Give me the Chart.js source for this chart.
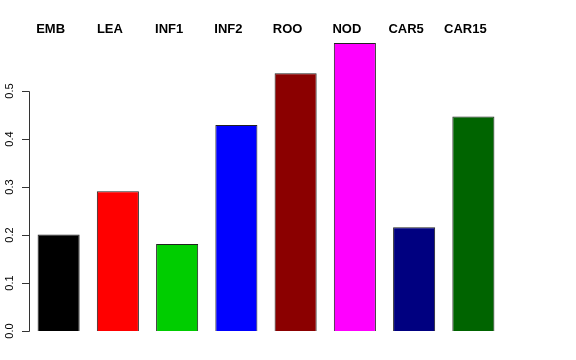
<!DOCTYPE html>
<html>
<head>
    <title>Bar chart</title>
    <script src="https://cdn.jsdelivr.net/npm/chart.js@4"></script>
    <style>
        body { margin: 0; background: #fff; }
        #wrap { width: 576px; height: 360px; }
    </style>
</head>
<body>
    <div id="wrap"><canvas id="barChart"></canvas></div>
    <script>
        var categories = ['EMB', 'LEA', 'INF1', 'INF2', 'ROO', 'NOD', 'CAR5', 'CAR15'];
        var values = [0.201, 0.291, 0.181, 0.429, 0.537, 0.600, 0.216, 0.447];
        var barColors = ['#000000', '#FF0000', '#00CD00', '#0000FF', '#8B0000', '#FF00FF', '#000080', '#006400'];
        var yTicks = [0.0, 0.1, 0.2, 0.3, 0.4, 0.5];
        var yTickLabels = ['0.0', '0.1', '0.2', '0.3', '0.4', '0.5'];

        // R-style axis on the left and bold names on top
        var rDecor = {
            id: 'rDecor',
            afterDraw: function(chart) {
                var ctx = chart.ctx;
                var y = chart.scales.y;
                var x = chart.scales.x;
                var ax = chart.chartArea.left;
                ctx.save();
                ctx.strokeStyle = '#333';
                ctx.lineWidth = 1;
                ctx.beginPath();
                ctx.moveTo(ax + 0.5, Math.round(y.getPixelForValue(yTicks[0])) + 0.5);
                ctx.lineTo(ax + 0.5, Math.round(y.getPixelForValue(yTicks[yTicks.length - 1])) + 0.5);
                yTicks.forEach(function(v) {
                    var py = Math.round(y.getPixelForValue(v)) + 0.5;
                    ctx.moveTo(ax + 0.5, py);
                    ctx.lineTo(ax - 7, py);
                });
                ctx.stroke();

                ctx.fillStyle = '#000';
                ctx.font = '11px "Liberation Sans", Arial, sans-serif';
                ctx.textAlign = 'center';
                ctx.textBaseline = 'middle';
                yTicks.forEach(function(v, i) {
                    ctx.save();
                    ctx.translate(10, y.getPixelForValue(v));
                    ctx.rotate(-Math.PI / 2);
                    ctx.fillText(yTickLabels[i], 0, 0);
                    ctx.restore();
                });

                ctx.font = 'bold 13px "Liberation Sans", Arial, sans-serif';
                categories.forEach(function(c, i) {
                    ctx.fillText(c, x.getPixelForValue(i) - 8, 29);
                });
                ctx.restore();
            }
        };

        var ctx = document.getElementById('barChart').getContext('2d');
        var chart = new Chart(ctx, {
            type: 'bar',
            data: {
                labels: categories,
                datasets: [{
                    data: values,
                    backgroundColor: barColors,
                    borderColor: '#222',
                    borderWidth: 1,
                    barPercentage: 0.71,
                    categoryPercentage: 1.0
                }]
            },
            options: {
                responsive: true,
                maintainAspectRatio: false,
                animation: false,
                layout: { padding: { left: 29, right: 73, top: 43, bottom: 29 } },
                plugins: {
                    legend: { display: false },
                    tooltip: { enabled: false }
                },
                scales: {
                    x: { display: false, offset: true },
                    y: { display: false, min: 0, max: 0.6 }
                }
            },
            plugins: [rDecor]
        });
    </script>
</body>
</html>
